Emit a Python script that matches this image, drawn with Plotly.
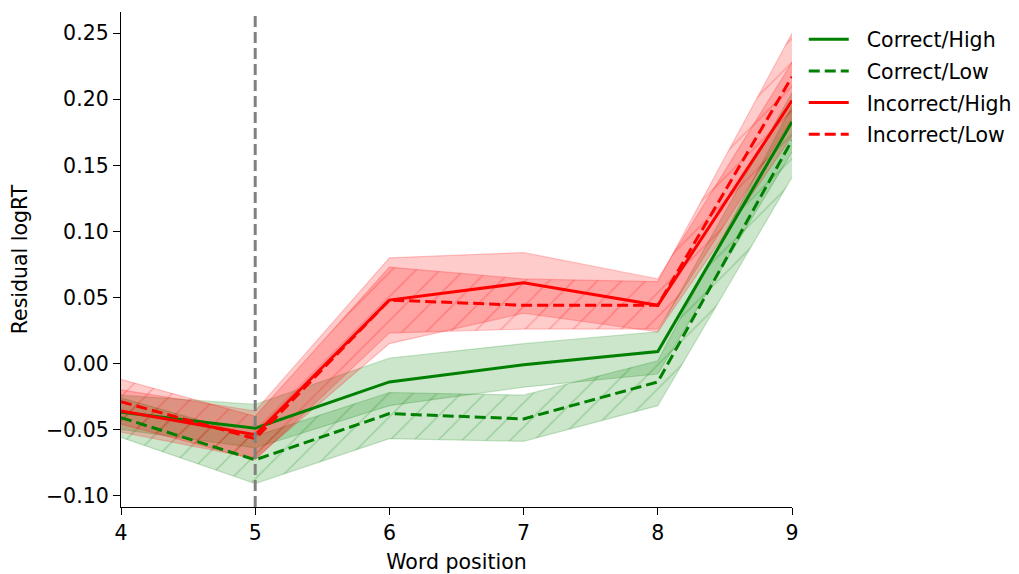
import plotly.graph_objects as go

# Data
positions = [4, 5, 6, 7, 8, 9]

correct_high = [-0.037, -0.049, -0.014, -0.001, 0.009, 0.183]
correct_high_lo = [-0.050, -0.064, -0.032, -0.018, -0.008, 0.160]
correct_high_hi = [-0.024, -0.031, 0.004, 0.015, 0.024, 0.205]

correct_low = [-0.041, -0.073, -0.038, -0.042, -0.014, 0.169]
correct_low_lo = [-0.056, -0.091, -0.057, -0.059, -0.032, 0.141]
correct_low_hi = [-0.026, -0.055, -0.022, -0.024, 0.002, 0.195]

incorrect_high = [-0.036, -0.054, 0.048, 0.061, 0.044, 0.199]
incorrect_high_lo = [-0.052, -0.072, 0.015, 0.038, 0.024, 0.172]
incorrect_high_hi = [-0.020, -0.036, 0.080, 0.084, 0.064, 0.228]

incorrect_low = [-0.029, -0.057, 0.048, 0.044, 0.044, 0.217]
incorrect_low_lo = [-0.046, -0.073, 0.023, 0.026, 0.026, 0.185]
incorrect_low_hi = [-0.012, -0.040, 0.073, 0.064, 0.062, 0.250]

y_ticks = [-0.10, -0.05, 0.00, 0.05, 0.10, 0.15, 0.20, 0.25]
x_ticks = [4, 5, 6, 7, 8, 9]

series = [
    ("Correct/High", correct_high, correct_high_lo, correct_high_hi, (0, 128, 0), "solid", False),
    ("Correct/Low", correct_low, correct_low_lo, correct_low_hi, (0, 128, 0), "dash", True),
    ("Incorrect/High", incorrect_high, incorrect_high_lo, incorrect_high_hi, (255, 0, 0), "solid", False),
    ("Incorrect/Low", incorrect_low, incorrect_low_lo, incorrect_low_hi, (255, 0, 0), "dash", True),
]

FONT = "DejaVu Sans"
FS = 20.5

fig = go.Figure()

# bands first
for name, mean, lo, hi, rgb, dash, hatched in series:
    r, g, b = rgb
    fill = f"rgba({r},{g},{b},0.2)"
    edge = f"rgba({r},{g},{b},0.2)"
    fig.add_trace(go.Scatter(
        x=positions, y=lo, mode="lines",
        line=dict(color=edge, width=1.2), showlegend=False, hoverinfo="skip",
    ))
    kw = {}
    if hatched:
        kw["fillpattern"] = dict(shape="/", fgcolor=f"rgba({r},{g},{b},0.45)",
                                 bgcolor=fill, size=17, solidity=0.09)
    fig.add_trace(go.Scatter(
        x=positions, y=hi, mode="lines", fill="tonexty", fillcolor=fill,
        line=dict(color=edge, width=1.2), showlegend=False, hoverinfo="skip", **kw,
    ))

# mean lines on top
for i, (name, mean, lo, hi, rgb, dash, hatched) in enumerate(series):
    r, g, b = rgb
    fig.add_trace(go.Scatter(
        x=positions, y=mean, mode="lines", name="\u00a0\u00a0" + name,
        legendgroup=f"g{i}",
        line=dict(color=f"rgb({r},{g},{b})", width=3,
                  dash="11px,5px" if dash == "dash" else "solid"),
    ))

fig.add_shape(type="line", x0=5, x1=5, xref="x", y0=0, y1=1, yref="paper",
              line=dict(color="gray", width=3, dash="11px,5px"), layer="above")

fig.update_layout(
    width=1019, height=574,
    margin=dict(l=121, r=227, t=12, b=67, autoexpand=False),
    plot_bgcolor="white", paper_bgcolor="white",
    font=dict(family=FONT, size=FS, color="black"),
    showlegend=True,
    legend=dict(x=1.0175, y=0.985, xanchor="left", yanchor="top",
                font=dict(family=FONT, size=FS), bgcolor="rgba(0,0,0,0)",
                traceorder="grouped", tracegroupgap=2, itemwidth=40),
    xaxis=dict(range=[4, 9], tickvals=x_ticks, ticktext=[str(v) for v in x_ticks],
               showgrid=False, zeroline=False, showline=True, linecolor="black",
               linewidth=1.3, ticks="outside", ticklen=7, tickwidth=1.3,
               tickcolor="black", automargin=False,
               title=dict(text="Word position", standoff=10,
                          font=dict(family=FONT, size=FS))),
    yaxis=dict(range=[-0.1087, 0.2661], tickvals=y_ticks,
               ticktext=[f"{v:.2f}".replace("-", "\u2212") for v in y_ticks],
               showgrid=False, zeroline=False, showline=True, linecolor="black",
               linewidth=1.3, ticks="outside", ticklen=7, tickwidth=1.3,
               tickcolor="black", automargin=False,
               title=dict(text="Residual logRT", standoff=12,
                          font=dict(family=FONT, size=FS))),
)

fig.write_html("out.html")
